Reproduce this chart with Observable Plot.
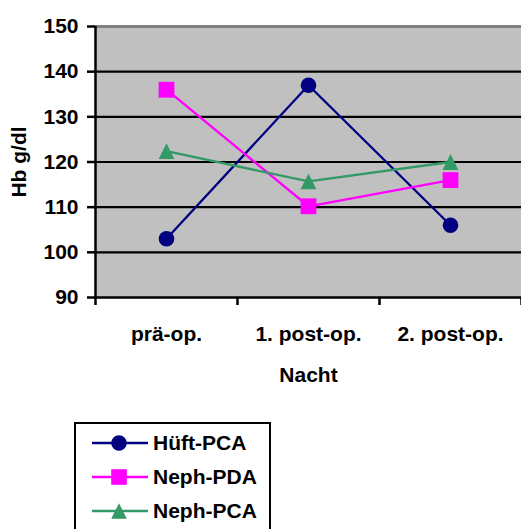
<!DOCTYPE html>
<html>
<head>
<meta charset="utf-8">
<script src="https://cdn.jsdelivr.net/npm/d3@7"></script>
<script src="https://cdn.jsdelivr.net/npm/@observablehq/plot@0.6"></script>
<style>
  html, body { margin: 0; padding: 0; background: #ffffff; }
  body { width: 521px; height: 529px; position: relative; overflow: hidden; font-family: "Liberation Sans", Arial, sans-serif; }
  #legend { position: absolute; left: 74px; top: 422px; width: 193px; height: 130px; border: 2px solid #000; padding-top: 2px; box-sizing: content-box; }
  .row { height: 34px; display: flex; align-items: center; font-weight: bold; font-size: 21px; color: #000; }
  .row svg { margin-left: 16px; margin-right: 5px; }
</style>
</head>
<body>
<div id="chart"></div>
<div id="legend"></div>
<script>
// ---- data ----
const categories = ["prä-op.", "1. post-op.", "2. post-op."];
const seriesNames = ["Hüft-PCA", "Neph-PDA", "Neph-PCA"];
const hueftPCA = [103, 137, 106];
const nephPDA = [136, 110.2, 116];
const nephPCA = [122.4, 115.7, 120];
const yTicks = [90, 100, 110, 120, 130, 140, 150];
const yLabel = "Hb g/dl";
const xLabel = "Nacht";

// ---- styles ----
const colors = ["#000080", "#ff00ff", "#339966"];
const squareSym = { draw(ctx, size) { const r = Math.sqrt(size / Math.PI); ctx.rect(-r, -r, 2 * r, 2 * r); } };
const triangleSym = { draw(ctx, size) { const r = Math.sqrt(size / Math.PI); ctx.moveTo(0, -r); ctx.lineTo(r, r); ctx.lineTo(-r, r); ctx.closePath(); } };
const symbols = [d3.symbolCircle, squareSym, triangleSym];
const font = "'Liberation Sans', Arial, sans-serif";

const seriesValues = [hueftPCA, nephPDA, nephPCA];
const rows = seriesNames.flatMap((name, si) =>
  seriesValues[si].map((v, i) => ({ series: name, si, x: i + 0.5, cat: categories[i], y: v }))
);
const boundaries = d3.range(categories.length + 1);
const centers = categories.map((c, i) => i + 0.5);

const marks = [
  Plot.frame({ fill: "#c0c0c0", stroke: null }),
  Plot.ruleY(yTicks.filter(t => t > yTicks[0] && t < yTicks[yTicks.length - 1]), { stroke: "#000", strokeWidth: 2.2 }),
  Plot.ruleY([yTicks[yTicks.length - 1]], { stroke: "#808080", strokeWidth: 3 }),
  Plot.ruleY([yTicks[0]], { stroke: "#000", strokeWidth: 2.5 }),
  Plot.ruleX([0], { stroke: "#000", strokeWidth: 2.5 }),
  Plot.axisY({ ticks: yTicks, tickSize: 8, tickPadding: 9, stroke: "#000", strokeWidth: 2.5, label: null, tickFormat: d => String(d) }),
  Plot.axisX({ ticks: boundaries, tickSize: 8, stroke: "#000", strokeWidth: 2.5, tickFormat: () => "", label: null }),
  Plot.axisX({ ticks: centers, tickSize: 0, tickPadding: 29, tickFormat: d => categories[Math.floor(d)], label: null }),
  Plot.text([yLabel], { text: d => d, frameAnchor: "left", rotate: -90, dx: -76, textAnchor: "middle", lineAnchor: "middle" }),
  Plot.text([xLabel], { text: d => d, frameAnchor: "bottom", dy: 78, textAnchor: "middle", lineAnchor: "middle" })
];
seriesNames.forEach((name, si) => {
  const data = rows.filter(d => d.si === si);
  marks.push(Plot.line(data, { x: "x", y: "y", stroke: colors[si], strokeWidth: 2.3 }));
  if (si === 0) {
    marks.push(Plot.dot(data, { x: "x", y: "y", r: 7.8, fill: colors[si], stroke: null }));
  } else {
    marks.push(Plot.dot(data, { x: "x", y: "y", r: 7.9, symbol: symbols[si], fill: colors[si], stroke: null }));
  }
});

const chart = Plot.plot({
  width: 521,
  height: 400,
  marginLeft: 95,
  marginRight: 0,
  marginTop: 26,
  marginBottom: 103,
  x: { type: "linear", domain: [0, categories.length], axis: null },
  y: { type: "linear", domain: [yTicks[0], yTicks[yTicks.length - 1]], axis: null },
  style: { fontFamily: font, fontSize: "21px", fontWeight: "bold", background: "#ffffff", color: "#000", overflow: "visible" },
  marks
});
document.getElementById("chart").appendChild(chart);

// ---- legend ----
const legend = document.getElementById("legend");
seriesNames.forEach((name, si) => {
  const row = document.createElement("div");
  row.className = "row";
  const svg = d3.create("svg").attr("width", 56).attr("height", 20);
  svg.append("line").attr("x1", 0).attr("x2", 56).attr("y1", 10).attr("y2", 10)
    .attr("stroke", colors[si]).attr("stroke-width", 2.3);
  svg.append("path").attr("transform", "translate(27,10)")
    .attr("d", d3.symbol(symbols[si], Math.PI * 7.8 * 7.8)())
    .attr("fill", colors[si]);
  row.appendChild(svg.node());
  const span = document.createElement("span");
  span.textContent = name;
  row.appendChild(span);
  legend.appendChild(row);
});
</script>
</body>
</html>
